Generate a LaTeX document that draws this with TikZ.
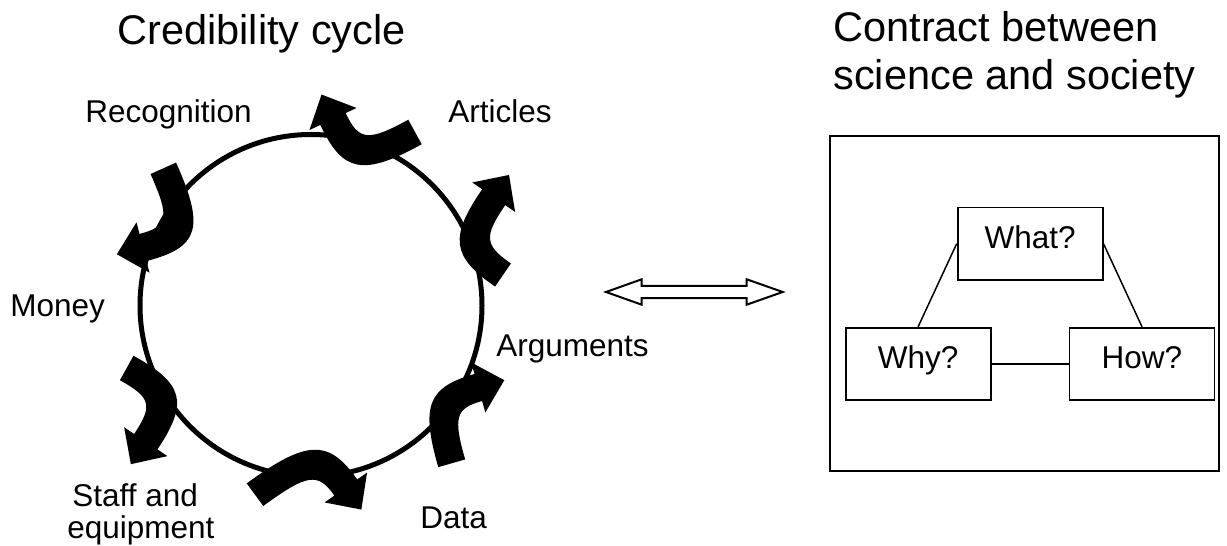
\documentclass[tikz,border=0pt]{standalone}
\usepackage{fontspec}
\setmainfont{Liberation Sans}
\usetikzlibrary{calc}

\tikzset{
  lbl/.style={font=\fontsize{15.75}{19}\selectfont, inner sep=0pt, anchor=base west},
  ttl/.style={font=\fontsize{20.75}{24}\selectfont, inner sep=0pt, anchor=base west},
  qbox/.style={draw, line width=0.9pt, minimum width=72.5pt, minimum height=36.2pt,
               inner sep=0pt, text height=11pt, text depth=6pt,
               font=\fontsize{15.75}{19}\selectfont},
  qlink/.style={line width=0.75pt},
  ring/.style={line width=2.5pt},
  frame/.style={draw, line width=1.25pt},
  hollow/.style={draw, line width=1pt, fill=white, line join=miter},
}

% sizes of the bent arrows: half band width, half head width, head length
\newcommand\bandw{7pt}
\newcommand\headw{13pt}
\newcommand\headl{13.5pt}

% One thick bent arrow of the cycle (turning right):
% tail centre (#2), corner of the bend (#3), centre of the head base (#4)
\newcommand\cyclearrow[4]{%
  \coordinate (#1T) at #2;
  \coordinate (#1K) at #3;
  \coordinate (#1B) at #4;
  \coordinate (#1to) at ($(#1T)!\bandw!90:(#1K)$);
  \coordinate (#1ti) at ($(#1T)!\bandw!-90:(#1K)$);
  \coordinate (#1bo) at ($(#1B)!\bandw!-90:(#1K)$);
  \coordinate (#1bi) at ($(#1B)!\bandw!90:(#1K)$);
  \coordinate (#1kot) at ($(#1K)!\bandw!-90:(#1T)$);
  \coordinate (#1kob) at ($(#1K)!\bandw!90:(#1B)$);
  \coordinate (#1kit) at ($(#1K)!\bandw!90:(#1T)$);
  \coordinate (#1kib) at ($(#1K)!\bandw!-90:(#1B)$);
  \coordinate (#1ko) at (intersection of #1to--#1kot and #1bo--#1kob);
  \coordinate (#1ki) at (intersection of #1ti--#1kit and #1bi--#1kib);
  \fill (#1ti) -- (#1to)
     .. controls ($(#1to)!0.8!(#1ko)$) and ($(#1bo)!0.8!(#1ko)$) .. (#1bo)
     -- ($(#1B)!\headw!-90:(#1K)$) -- ($(#1B)!-\headl!(#1K)$) -- ($(#1B)!\headw!90:(#1K)$)
     -- (#1bi)
     .. controls ($(#1bi)!0.85!(#1ki)$) and ($(#1ti)!0.85!(#1ki)$) .. (#1ti) -- cycle;
}

\begin{document}
\begin{tikzpicture}[x=0.5pt,y=0.5pt]
\useasboundingbox (0,0) rectangle (1227,546);

% ---- left half: the credibility cycle ----
\node[ttl] (cycletitle) at (117,501) {Credibility cycle};

\draw[ring] (311,240.5) circle[radius=171];

\cyclearrow{recog}{(163.3,377.7)}{(192.9,311.4)}{(143,298.5)}
\cyclearrow{artic}{(415,414)}{(354.6,380.9)}{(333,427)}
\cyclearrow{argum}{(503,271)}{(460.3,300.3)}{(493.7,348.8)}
\cyclearrow{datas}{(451.7,82.7)}{(433.5,145.9)}{(478.3,158.5)}
\cyclearrow{equip}{(255,51.3)}{(318.3,97.6)}{(345.8,58.5)}
\cyclearrow{money}{(126.7,178)}{(176.5,150.4)}{(145.8,104.3)}

\node[lbl] (lrecog) at (85,423) {Recognition};
\node[lbl] (lartic) at (448,423) {Articles};
\node[lbl] (lmoney) at (10,229) {Money};
\node[lbl] (largum) at (496,189) {Arguments};
\node[lbl] (lstaff) at (72,39) {Staff and};
\node[lbl] (lequip) at (67,7) {equipment};
\node[lbl] (ldata)  at (420,17) {Data};

% ---- hollow double arrow between the halves ----
\draw[hollow] (606,254) -- (641.7,266.7) -- (641.7,260.2) -- (746.7,260.2)
  -- (746.7,266.7) -- (782.7,254) -- (746.7,241.3) -- (746.7,247.8)
  -- (641.7,247.8) -- (641.7,241.3) -- cycle;

% ---- right half: the contract ----
\node[ttl] (contracttitle) at (833,504) {Contract between};
\node[ttl] (contracttitleb) at (833,456) {science and society};

\draw[frame] (830,75) rectangle (1219,410);

\node[qbox] (what) at (1030.1,302.3) {What?};
\node[qbox] (why)  at (918.1,182.1) {Why?};
\node[qbox] (how)  at (1142,182.1) {How?};

\draw[qlink] (what.west) -- (why.north);
\draw[qlink] (what.east) -- (how.north);
\draw[qlink] (why.east) -- (how.west);
\end{tikzpicture}
\end{document}
